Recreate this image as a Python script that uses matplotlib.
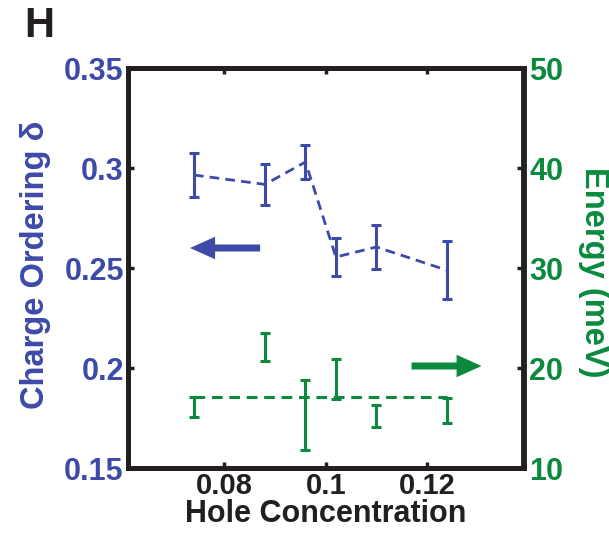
import matplotlib
matplotlib.use("Agg")
import matplotlib.pyplot as plt
from matplotlib.patches import FancyArrowPatch

plt.rcParams["font.family"] = ["Liberation Sans", "DejaVu Sans"]
plt.rcParams["font.weight"] = "bold"
plt.rcParams["axes.labelweight"] = "bold"

# Hole concentration of each sample
hole = [0.074, 0.088, 0.096, 0.102, 0.110, 0.124]
# Charge ordering wavevector delta and its uncertainty
delta = [0.2965, 0.2918, 0.303, 0.2555, 0.2605, 0.2488]
delta_err = [0.011, 0.0103, 0.0085, 0.0095, 0.011, 0.0145]
# Energy scale (meV) and its uncertainty
energy = [16.1, 22.1, 15.3, 18.9, 15.2, 15.8]
energy_err = [1.03, 1.37, 3.5, 2.0, 1.1, 1.25]
energy_avg = 17.1

x_ticks = [0.08, 0.1, 0.12]
x_ticklabels = ["0.08", "0.1", "0.12"]
left_ticks = [0.15, 0.2, 0.25, 0.3, 0.35]
left_ticklabels = ["0.15", "0.2", "0.25", "0.3", "0.35"]
right_ticks = [10, 20, 30, 40, 50]
right_ticklabels = ["10", "20", "30", "40", "50"]

BLUE = "#3d4aa8"
GREEN = "#0b8a3e"
DARK = "#231f20"
FS = 22
LFS = 23.5

fig = plt.figure(figsize=(6.09, 5.35), dpi=100)
ax = fig.add_axes([128 / 609, 1 - 468 / 535, 395.5 / 609, 400 / 535])
ax2 = ax.twinx()

# charge ordering (left axis)
ax.errorbar(hole, delta, yerr=delta_err, fmt="none", ecolor=BLUE,
            elinewidth=2.2, capsize=3.5, capthick=2.2)
ax.plot(hole, delta, color=BLUE, lw=2.0, dashes=(3.5, 2.2))

# energy (right axis)
ax2.errorbar(hole, energy, yerr=energy_err, fmt="none", ecolor=GREEN,
             elinewidth=2.2, capsize=3.5, capthick=2.2)
ax2.plot([hole[0], hole[-1]], [energy_avg, energy_avg], color=GREEN,
         lw=2.2, dashes=(3.5, 2.2))

ax.set_xlim(0.061, 0.139)
ax.set_ylim(0.15, 0.35)
ax2.set_ylim(10, 50)

ax.set_xticks(x_ticks)
ax.set_xticklabels(x_ticklabels)
ax.set_yticks(left_ticks)
ax.set_yticklabels(left_ticklabels)
ax2.set_yticks(right_ticks)
ax2.set_yticklabels(right_ticklabels)

ax.tick_params(axis="x", direction="in", top=True, length=4, width=2.5,
               labelsize=21, colors=DARK, pad=3)
ax.tick_params(axis="y", direction="in", length=4, width=2.5,
               labelsize=FS, colors=DARK, labelcolor=BLUE, pad=3)
ax2.tick_params(axis="y", direction="in", length=4, width=2.5,
                labelsize=FS, colors=DARK, labelcolor=GREEN, pad=4)

for a in (ax, ax2):
    for sp in a.spines.values():
        sp.set_linewidth(3.5)
        sp.set_color(DARK)

ax.set_xlabel("Hole Concentration", fontsize=22, color=DARK, labelpad=-1)
ax.set_ylabel("Charge Ordering δ", fontsize=LFS, color=BLUE,
              ha="center", va="center")
ax.yaxis.set_label_coords(-0.235, 0.509)
ax2.set_ylabel("Energy (meV)", fontsize=LFS, color=GREEN, rotation=270,
               ha="center", va="center")
ax2.yaxis.set_label_coords(1.177, 0.49)

# direction arrows pointing to each axis
style = "simple,head_length=1.0,head_width=0.9,tail_width=0.28"
ax2.add_patch(FancyArrowPatch((0.334, 0.55), (0.157, 0.55),
                              transform=ax2.transAxes, arrowstyle=style,
                              mutation_scale=18, color=BLUE, lw=0,
                              shrinkA=0, shrinkB=0))
ax2.add_patch(FancyArrowPatch((0.717, 0.255), (0.894, 0.255),
                              transform=ax2.transAxes, arrowstyle=style,
                              mutation_scale=18, color=GREEN, lw=0,
                              shrinkA=0, shrinkB=0))

fig.text(24 / 609, 1 - 6 / 535, "H", fontsize=30, color=DARK,
         ha="left", va="top", weight="bold")

fig.savefig("out.png", dpi=100)
